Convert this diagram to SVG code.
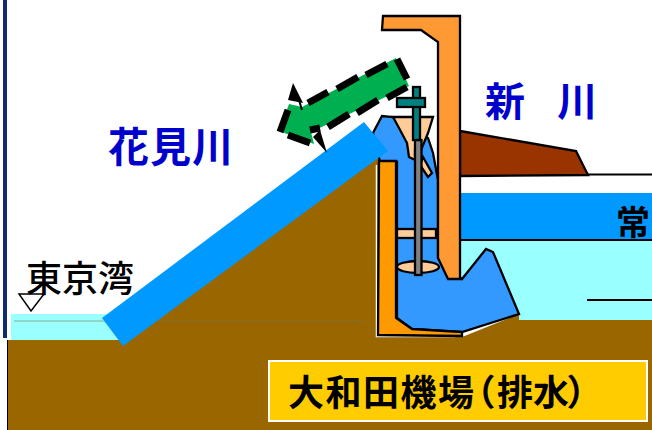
<svg xmlns="http://www.w3.org/2000/svg" width="652" height="430" viewBox="0 0 652 430">
<defs>
<style>
.o{stroke:#000;stroke-width:2.300;stroke-linejoin:miter}
.t{font-family:"Noto Sans CJK JP","Liberation Sans",sans-serif}
.b{fill:#0000cc;font-weight:700}
.p{font-feature-settings:"palt"}
</style>
</defs>
<rect width="652" height="430" fill="#fff"/>
<g id="left-edge"><rect x="3" y="0" width="4" height="338" fill="#0f2a70"/><rect x="7" y="340" width="1.500" height="90" fill="#000"/></g>
<g id="water">
<rect x="11" y="314" width="126" height="26" fill="#99ffff"/>
<rect x="460" y="193" width="192" height="47" fill="#0099ff"/>
<rect x="460" y="240" width="192" height="80" fill="#99ffff"/>
</g>
<g id="ground"><path d="M8 340H128L378 157V337H462L519 314V320H652V430H8Z" fill="#996600"/><path d="M14 321H365" stroke="#7a7a50" stroke-width="1" stroke-opacity=".6" fill="none"/><path d="M376.500 165V336.500H455" stroke="#fff" stroke-width="1.500" fill="none"/></g>
<g id="levee"><path d="M460 131L576 151L588 175L460 176Z" fill="#993300" class="o"/><path d="M588 174.500H652M460 240H652M587 300H652" stroke="#000" stroke-width="2" fill="none"/></g>
<g id="pump-body"><path d="M397 318L412 329L462 332L519 314L493 252L486 249L462 279L438 258V180L433 153L428 138L393 117L382 116L373 133L380 162H397Z" fill="#3399ff" class="o"/></g>
<g id="channel"><path d="M379 161H396V318L412 329L462 332V336L378 335Z" fill="#ff9900" class="o"/></g>
<g id="funnel">
<path d="M393 117H433L428 133L421 150H415V160L409 157L407 143L399 128Z" fill="#ffcc99" class="o" stroke-width="1.500"/>
<path d="M423 157L432 173L428 177L420 165Z" fill="#ffcc99" class="o"/>
</g>
<g id="gate-wall"><path d="M383 16H460V279H448L438 258V42L421 30H382Z" fill="#ff9933" class="o"/></g>
<g id="shaft">
<rect x="397" y="229" width="39" height="9" fill="#ffcc99" class="o"/>
<ellipse cx="418" cy="267" rx="21" ry="6" fill="#ffcc99" class="o"/>
<rect x="415" y="140" width="6.500" height="135" fill="#808080" class="o"/>
<rect x="413" y="87" width="7" height="53" fill="#008080" class="o"/>
<rect x="397" y="98" width="28" height="9" fill="#008080" class="o"/>
</g>
<g id="discharge-pipe"><path d="M102 318L123 346L388 151L364 122Z" fill="#0099ff"/></g>
<g id="flow-arrow">
<path d="M396 58L409 86L311 132L314 144L279 131L289 104L302 107Z" fill="#00b050"/>
<path d="M397 59L407 79M387 64L366 75M358 77L337 89M328 92L308 103M407 87L387 98M378 100L357 113M349 114L328 127M288 110L280 132M288 135L310 143M310 130L320 128" stroke="#000" stroke-width="7" fill="none"/>
<path d="M293 83L288 100L303 103ZM327 153L313 137L320 130Z" fill="#000"/>
<path d="M299 100L302 110" stroke="#000" stroke-width="2"/>
</g>
<g id="sea-level"><path d="M19 294H44L31 311Z" fill="none" stroke="#000" stroke-width="1.500"/></g>
<g id="labels">
<text class="t" x="26" y="292" font-size="36" font-weight="500" fill="#000">東京湾</text>
<text class="t b" x="108" y="162" font-size="41" letter-spacing="1">花見川</text>
<text class="t b" x="485" y="116" font-size="40">新</text>
<text class="t b" x="557" y="116" font-size="40">川</text>
<text class="t" x="616" y="235" font-size="34" font-weight="700" fill="#000">常</text>
</g>
<g id="caption">
<rect x="269" y="361" width="378" height="60" fill="#ffcc00" stroke="#fff" stroke-width="2"/>
<text class="t" y="406" font-size="36" font-weight="700" fill="#000"><tspan x="288" letter-spacing="1.500">大和田機場</tspan><tspan class="p" x="476">（</tspan><tspan x="497">排水</tspan><tspan class="p" x="568">）</tspan></text>
</g>
</svg>
